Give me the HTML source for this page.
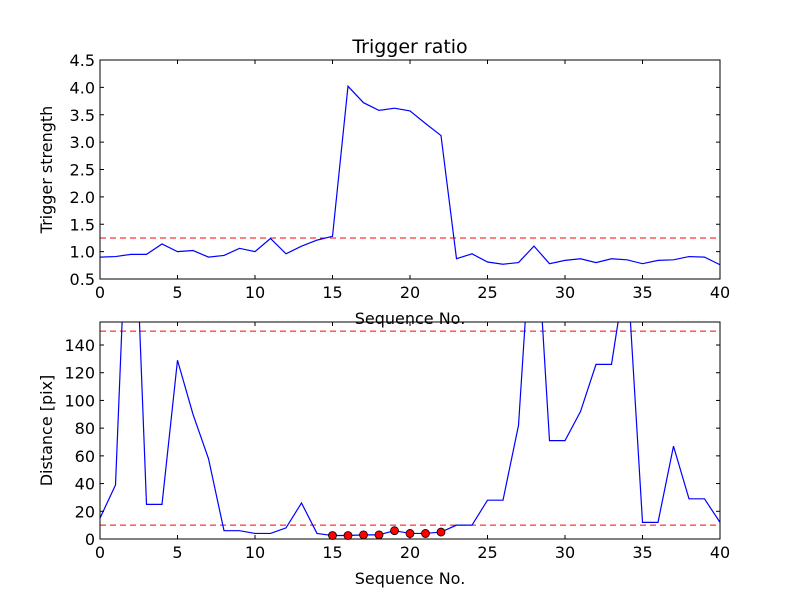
<!DOCTYPE html>
<html><head><meta charset="utf-8"><style>body{margin:0;background:#fff}svg{font-family:"DejaVu Sans","Liberation Sans",sans-serif}</style></head>
<body>
<svg id="c" width="800" height="600" xmlns="http://www.w3.org/2000/svg"></svg>
<script>
const seqX = Array.from({length:41},(_,i)=>i);
const strength = [0.90,0.91,0.95,0.95,1.14,1.0,1.02,0.90,0.93,1.06,1.0,1.24,0.96,1.10,1.21,1.28,4.02,3.72,3.58,3.62,3.57,3.34,3.12,0.87,0.96,0.81,0.77,0.80,1.10,0.78,0.84,0.87,0.80,0.87,0.85,0.78,0.84,0.85,0.91,0.90,0.76];
const strengthThreshold = 1.25;
const distance = [15,39,315,25,25,129,90,58,6,6,4,4,8,26,4,2.5,2.5,3,3,6,4,4,5,10,10,28,28,82,255,71,71,92,126,126,198,12,12,67,29,29,12];
const distThresholds = [150,10];
const markX = [15,16,17,18,19,20,21,22];
const xTicks = [0,5,10,15,20,25,30,35,40];
const yTicksTop = [0.5,1.0,1.5,2.0,2.5,3.0,3.5,4.0,4.5];
const yTicksBot = [0,20,40,60,80,100,120,140];

const svg=document.getElementById('c');const NS='http://www.w3.org/2000/svg';
function el(t,a,p){const e=document.createElementNS(NS,t);for(const k in a)e.setAttribute(k,a[k]);(p||svg).appendChild(e);return e;}
function panel(name,top,bot,ymin,ymax,yticks,fmt,ylabel){
  const L=100,R=720;
  const sx=v=>L+(v-0)/40*(R-L), sy=v=>bot-(v-ymin)/(ymax-ymin)*(bot-top);
  const g=el('g',{});
  const cid='clip'+name;const cp=el('clipPath',{id:cid},g);el('rect',{x:L,y:top,width:R-L,height:bot-top},cp);
  const plot=el('g',{'clip-path':'url(#'+cid+')'},g);
  return {g,plot,sx,sy,L,R,top,bot,finish(){
    el('rect',{x:L,y:top,width:R-L,height:bot-top,fill:'none',stroke:'#000','stroke-width':1}, g);
    xTicks.forEach(t=>{const x=sx(t);el('line',{x1:x,x2:x,y1:bot,y2:bot-4,stroke:'#000'},g);el('line',{x1:x,x2:x,y1:top,y2:top+4,stroke:'#000'},g);
      const tx=el('text',{x:x,y:bot+19,'text-anchor':'middle','font-size':16},g);tx.textContent=t;});
    yticks.forEach(t=>{const y=sy(t);el('line',{x1:L,x2:L+4,y1:y,y2:y,stroke:'#000'},g);el('line',{x1:R,x2:R-4,y1:y,y2:y,stroke:'#000'},g);
      const tx=el('text',{x:L-5,y:y+6,'text-anchor':'end','font-size':16},g);tx.textContent=fmt(t);});
    const yl=el('text',{x:0,y:0,transform:`translate(${L-48},${(top+bot)/2}) rotate(-90)`,'text-anchor':'middle','font-size':16},g);yl.textContent=ylabel;
    const xl=el('text',{x:(L+R)/2,y:bot+45,'text-anchor':'middle','font-size':16},g);xl.textContent='Sequence No.';
  }};
}
const p1=panel('top-panel',60,279,0.5,4.5,yTicksTop,t=>t.toFixed(1),'Trigger strength');
let th=el('line',{x1:p1.L,x2:p1.R,y1:p1.sy(strengthThreshold),y2:p1.sy(strengthThreshold),stroke:'#f00','stroke-dasharray':'6,4'},p1.plot);

let ln=el('polyline',{points:seqX.map((x,i)=>p1.sx(x)+','+p1.sy(strength[i])).join(' '),fill:'none',stroke:'#00f','stroke-width':1.2},p1.plot);

p1.finish();
const tt=el('text',{x:410,y:53,'text-anchor':'middle','font-size':19});tt.textContent='Trigger ratio';
const p2=panel('bottom-panel',322,539,0,156.6,yTicksBot,t=>t,'Distance [pix]');
distThresholds.forEach(v=>{const l=el('line',{x1:p2.L,x2:p2.R,y1:p2.sy(v),y2:p2.sy(v),stroke:'#f00','stroke-dasharray':'6,4'},p2.plot);});
ln=el('polyline',{points:seqX.map((x,i)=>p2.sx(x)+','+p2.sy(distance[i])).join(' '),fill:'none',stroke:'#00f','stroke-width':1.2},p2.plot);

p2.finish();
markX.forEach(x=>{const c=el('circle',{cx:p2.sx(x),cy:p2.sy(distance[x]),r:4,fill:'#f00',stroke:'#000','stroke-width':0.8});});
</script>
</body></html>
